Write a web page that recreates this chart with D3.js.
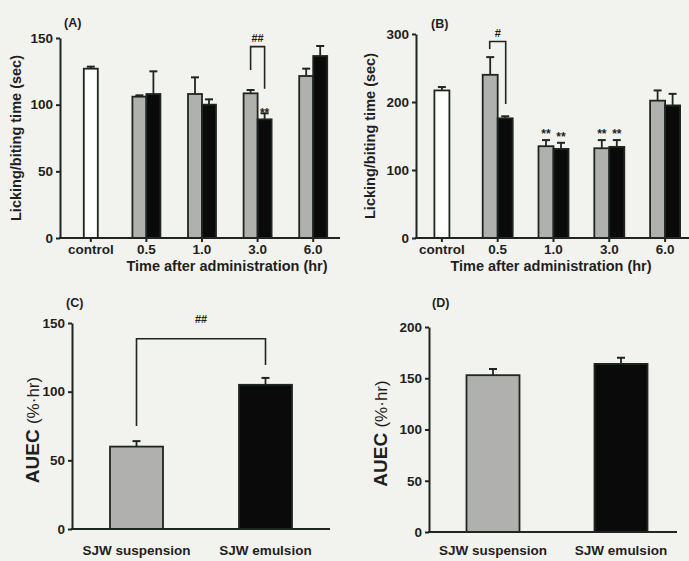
<!DOCTYPE html>
<html><head><meta charset="utf-8">
<script src="https://cdn.jsdelivr.net/npm/d3@7"></script>
<style>
html,body{margin:0;padding:0;background:#f2f2ee;}
svg{display:block;}
text{font-family:"Liberation Sans",Arial,sans-serif;font-weight:bold;fill:#1f1f1f;}
</style></head>
<body><svg id="c" width="689" height="561"></svg>
<script>
// ---------- data ----------
const timeGroups = ["control", "0.5", "1.0", "3.0", "6.0"];
// Panel A
const aControl = 127, aControlErr = 1.5;
const aSuspension = [106, 108, 108.5, 121.5];
const aSuspensionErr = [1, 12.5, 2.5, 5.5];
const aEmulsion = [108, 100, 89, 136.5];
const aEmulsionErr = [17, 4, 4.5, 7.5];
const aTicks = [0, 50, 100, 150];
// Panel B
const bControl = 217, bControlErr = 5;
const bSuspension = [240, 135, 132, 202];
const bSuspensionErr = [26, 9, 12, 15];
const bEmulsion = [176, 131, 134, 195];
const bEmulsionErr = [3, 9, 10, 17];
const bTicks = [0, 100, 200, 300];
// Panels C, D
const formulations = ["SJW suspension", "SJW emulsion"];
const cAUEC = [60, 105], cAUECErr = [4, 5];
const cTicks = [0, 50, 100, 150];
const dAUEC = [153, 164], dAUECErr = [6, 6];
const dTicks = [0, 50, 100, 150, 200];

const svg = d3.select("#c");
const INK = "#1f2622", GRAY = "#b0b0ae";

function yAxis(g, y, x0, ticks) {
  const ax = g.append("g").attr("transform", `translate(${x0},0)`)
    .call(d3.axisLeft(y).tickValues(ticks).tickSize(4).tickSizeOuter(0).tickPadding(3));
  ax.select(".domain").attr("stroke", INK).attr("stroke-width", 2);
  ax.selectAll(".tick line").attr("stroke", INK).attr("stroke-width", 2);
  ax.selectAll(".tick text").style("font-size", "13.5px").attr("fill", "#1f1f1f");
}
function xAxisLine(g, y0, x0, x1) {
  g.append("line").attr("x1", x0 - 1).attr("x2", x1).attr("y1", y0).attr("y2", y0)
    .attr("stroke", INK).attr("stroke-width", 2);
}
function bar(g, x, w, y, v, fill) {
  g.append("rect").attr("x", x).attr("width", w).attr("y", y(v)).attr("height", y(0) - y(v))
    .attr("fill", fill).attr("stroke", INK).attr("stroke-width", 1.8);
}
function err(g, cx, y, v, e, cap) {
  if (e <= 0) return;
  g.append("line").attr("x1", cx).attr("x2", cx).attr("y1", y(v)).attr("y2", y(v + e))
    .attr("stroke", INK).attr("stroke-width", 1.8);
  g.append("line").attr("x1", cx - cap / 2).attr("x2", cx + cap / 2).attr("y1", y(v + e)).attr("y2", y(v + e))
    .attr("stroke", INK).attr("stroke-width", 2);
}
function bracket(g, xa, xb, y, top, la, lb) {
  g.append("path").attr("d", `M${xa},${y(la)}V${y(top)}H${xb}V${y(lb)}`)
    .attr("fill", "none").attr("stroke", INK).attr("stroke-width", 1.6);
}
function label(g, txt, x, y, size, anchor) {
  return g.append("text").attr("x", x).attr("y", y).attr("text-anchor", anchor || "middle")
    .style("font-size", size + "px").text(txt);
}

function timePanel(opts) {
  const g = svg.append("g");
  const y = d3.scaleLinear().domain(opts.domain).range([opts.y0, opts.y1]);
  const x = d3.scalePoint().domain(timeGroups).range(opts.xr).padding(0.5);
  const bw = opts.bw;
  const cc = x("control");
  bar(g, cc - bw / 2, bw, y, opts.control, "#ffffff");
  err(g, cc, y, opts.control, opts.controlErr, 8);
  timeGroups.slice(1).forEach((t, i) => {
    const c = x(t);
    bar(g, c - bw, bw, y, opts.susp[i], GRAY);
    bar(g, c, bw, y, opts.emul[i], "#0a0a0a");
    err(g, c - bw / 2, y, opts.susp[i], opts.suspErr[i], 8);
    err(g, c + bw / 2, y, opts.emul[i], opts.emulErr[i], 8);
  });
  yAxis(g, y, opts.axisX, opts.ticks);
  xAxisLine(g, y(0), opts.axisX, opts.axisEnd);
  timeGroups.forEach(t => {
    g.append("line").attr("x1", x(t)).attr("x2", x(t)).attr("y1", y(0)).attr("y2", y(0) + 4)
      .attr("stroke", INK).attr("stroke-width", 2);
    label(g, t, x(t), y(0) + 16, 13.5);
  });
  label(g, "Time after administration (hr)", opts.titleX, y(0) + 33, 14.5);
  g.append("text").attr("transform", `translate(${opts.ylabX},${(opts.y0 + opts.y1) / 2}) rotate(-90)`)
    .attr("text-anchor", "middle").style("font-size", "14.5px").text("Licking/biting time (sec)");
  label(g, opts.tag, opts.tagX, opts.tagY, 12.5, "start");
  return { g, x, y };
}

// ---------- Panel A ----------
const A = timePanel({
  domain: [0, 150], y0: 238, y1: 38, xr: [63, 341], bw: 14, axisX: 60, axisEnd: 340,
  control: aControl, controlErr: aControlErr, susp: aSuspension, suspErr: aSuspensionErr,
  emul: aEmulsion, emulErr: aEmulsionErr, ticks: aTicks, titleX: 227, ylabX: 21,
  tag: "(A)", tagX: 64, tagY: 27
});
{
  const c = A.x("3.0");
  bracket(A.g, c - 7, c + 7, A.y, 143.5, 126, 112);
  label(A.g, "##", c, A.y(143.5) - 5, 11);
  label(A.g, "**", c + 7, A.y(aEmulsion[2] + aEmulsionErr[2]) + 4, 12);
}

// ---------- Panel B ----------
const B = timePanel({
  domain: [0, 300], y0: 238, y1: 34, xr: [414, 693], bw: 15, axisX: 416, axisEnd: 689,
  control: bControl, controlErr: bControlErr, susp: bSuspension, suspErr: bSuspensionErr,
  emul: bEmulsion, emulErr: bEmulsionErr, ticks: bTicks, titleX: 551, ylabX: 375,
  tag: "(B)", tagX: 431, tagY: 28
});
{
  const c = B.x("0.5");
  bracket(B.g, c - 8, c + 8, B.y, 289, 278, 197);
  label(B.g, "#", c, B.y(289) - 4, 11);
  ["1.0", "3.0"].forEach(t => {
    const i = timeGroups.indexOf(t) - 1, cx = B.x(t);
    label(B.g, "**", cx - 7.5, B.y(bSuspension[i] + bSuspensionErr[i]) - 2, 12);
    label(B.g, "**", cx + 7.5, B.y(bEmulsion[i] + bEmulsionErr[i]) - 2, 12);
  });
}

// ---------- AUEC panels ----------
function auecPanel(opts) {
  const g = svg.append("g");
  const y = d3.scaleLinear().domain(opts.domain).range([opts.y0, opts.y1]);
  const x = d3.scalePoint().domain(formulations).range(opts.xr).padding(0.5);
  const bw = 53;
  formulations.forEach((f, i) => {
    bar(g, x(f) - bw / 2, bw, y, opts.vals[i], i === 0 ? GRAY : "#0a0a0a");
    err(g, x(f), y, opts.vals[i], opts.errs[i], 8);
    label(g, f, x(f), 555, 13.5);
  });
  yAxis(g, y, opts.axisX, opts.ticks);
  xAxisLine(g, y(0), opts.axisX, opts.axisEnd);
  const t = g.append("text").attr("transform", `translate(${opts.ylabX},${(opts.y0 + opts.y1) / 2 + 4}) rotate(-90)`)
    .attr("text-anchor", "middle");
  t.append("tspan").style("font-size", "19px").text("AUEC ");
  t.append("tspan").style("font-size", "17px").style("font-weight", "normal").text("(%\u00b7hr)");
  label(g, opts.tag, opts.tagX, opts.tagY, 12.5, "start");
  return { g, x, y };
}

const C = auecPanel({
  domain: [0, 150], y0: 529, y1: 323, xr: [72, 330], axisX: 72, axisEnd: 330,
  vals: cAUEC, errs: cAUECErr, ticks: cTicks, ylabX: 39, tag: "(C)", tagX: 66, tagY: 307
});
{
  const xa = C.x(formulations[0]), xb = C.x(formulations[1]);
  bracket(C.g, xa, xb, C.y, 138.5, 75, 119.5);
  label(C.g, "##", (xa + xb) / 2, C.y(138.5) - 16, 11);
}

auecPanel({
  domain: [0, 200], y0: 532, y1: 327, xr: [429, 685], axisX: 429, axisEnd: 677,
  vals: dAUEC, errs: dAUECErr, ticks: dTicks, ylabX: 387, tag: "(D)", tagX: 432, tagY: 307
});
</script></body></html>
